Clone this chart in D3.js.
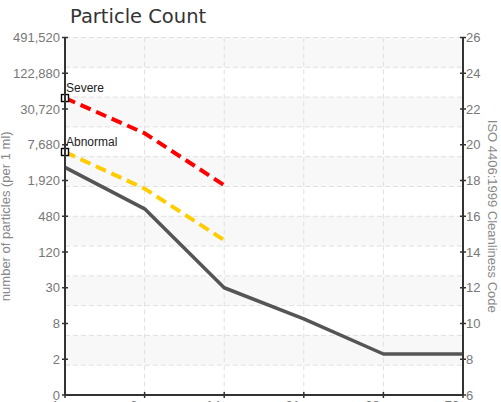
<!DOCTYPE html>
<html><head><meta charset="utf-8">
<script src="https://cdn.jsdelivr.net/npm/d3@7"></script>
<style>
html,body{margin:0;padding:0;background:#fff;overflow:hidden;}
svg{display:block;}
</style></head>
<body>
<svg id="c" width="501" height="402"></svg>
<script>
// ---- data ----
const sizes = ["4 µm", "6 µm", "14 µm", "21 µm", "38 µm", "70 µm"];
const actual = [3200, 640, 30, 9, 2.3, 2.3];
const severe = [47000, 12000, 1600];
const abnormal = [5800, 1400, 190];
const countTicks = [0.46875, 1.875, 7.5, 30, 120, 480, 1920, 7680, 30720, 122880, 491520];
const isoTicks = [6, 8, 10, 12, 14, 16, 18, 20, 22, 24, 26];
const gridDivisions = 12;

// ---- layout ----
const L = 65, R = 463, T = 37.5, B = 395;
const svg = d3.select("#c");
const font = "'Liberation Sans', Arial, sans-serif";

const x = d3.scalePoint().domain(sizes).range([L, R]);
const y = d3.scaleLog().base(2).domain([countTicks[0], countTicks[countTicks.length-1]]).range([B, T]);
const yIso = d3.scaleLinear().domain([isoTicks[0], isoTicks[isoTicks.length-1]]).range([B, T]);
const gridS = d3.scaleLinear().domain([0, gridDivisions]).range([T, B]);

// bands
const g = svg.append("g");
d3.range(0, gridDivisions, 2).forEach(k => {
  g.append("rect").attr("x", L).attr("width", R - L)
    .attr("y", gridS(k)).attr("height", gridS(k+1) - gridS(k))
    .attr("fill", "#f8f8f8");
});
// horizontal grid
d3.range(0, gridDivisions).forEach(k => {
  g.append("line").attr("x1", L).attr("x2", R)
    .attr("y1", gridS(k)).attr("y2", gridS(k))
    .attr("stroke", "#e0e0e0").attr("stroke-width", 1).attr("stroke-dasharray", "5,3");
});
// vertical grid
sizes.slice(1, -1).forEach(s => {
  g.append("line").attr("x1", x(s)).attr("x2", x(s))
    .attr("y1", T).attr("y2", B)
    .attr("stroke", "#e0e0e0").attr("stroke-width", 1).attr("stroke-dasharray", "5,3");
});

// lines
const line = d3.line().x(d => x(d.s)).y(d => y(d.v));
const toPts = arr => arr.map((v, i) => ({s: sizes[i], v}));

svg.append("path").datum(toPts(actual)).attr("d", line)
  .attr("fill", "none").attr("stroke", "#555").attr("stroke-width", 3.5)
  .attr("stroke-linejoin", "round");
svg.append("path").datum(toPts(abnormal)).attr("d", line)
  .attr("fill", "none").attr("stroke", "#ffcc00").attr("stroke-width", 4)
  .attr("stroke-dasharray", "11,6");
svg.append("path").datum(toPts(severe)).attr("d", line)
  .attr("fill", "none").attr("stroke", "#ff0000").attr("stroke-width", 4)
  .attr("stroke-dasharray", "11,6");

// markers + labels
[[severe, "Severe"], [abnormal, "Abnormal"]].forEach(([arr, name]) => {
  const px = x(sizes[0]), py = y(arr[0]);
  svg.append("rect").attr("x", px - 3.5).attr("y", py - 3.5).attr("width", 7).attr("height", 7)
    .attr("fill", "#fff").attr("stroke", "#000").attr("stroke-width", 1.4);
  svg.append("text").attr("x", px + 1).attr("y", py - 6)
    .attr("font-family", font).attr("font-size", 12).attr("fill", "#222")
    .text(name);
});

// axes
const axisColor = "#333";
const tickColor = "#777";
// left
const la = svg.append("g");
la.append("line").attr("x1", L).attr("x2", L).attr("y1", T).attr("y2", B)
  .attr("stroke", axisColor).attr("stroke-width", 2);
countTicks.forEach(v => {
  la.append("line").attr("x1", L - 3).attr("x2", L + 3).attr("y1", y(v)).attr("y2", y(v))
    .attr("stroke", axisColor).attr("stroke-width", 1.5);
  la.append("text").attr("x", L - 5).attr("y", y(v)).attr("dy", "0.36em")
    .attr("text-anchor", "end").attr("font-family", font).attr("font-size", 13)
    .attr("fill", tickColor).text(d3.format(",.0f")(v));
});
// right
const ra = svg.append("g");
ra.append("line").attr("x1", R).attr("x2", R).attr("y1", T).attr("y2", B)
  .attr("stroke", axisColor).attr("stroke-width", 2);
isoTicks.forEach(v => {
  ra.append("line").attr("x1", R - 3).attr("x2", R + 3).attr("y1", yIso(v)).attr("y2", yIso(v))
    .attr("stroke", axisColor).attr("stroke-width", 1.5);
  ra.append("text").attr("x", R + 3).attr("y", yIso(v)).attr("dy", "0.36em")
    .attr("text-anchor", "start").attr("font-family", font).attr("font-size", 13)
    .attr("fill", tickColor).text(v);
});
// bottom
const ba = svg.append("g");
ba.append("line").attr("x1", L).attr("x2", R).attr("y1", B).attr("y2", B)
  .attr("stroke", axisColor).attr("stroke-width", 2);
sizes.forEach(s => {
  ba.append("line").attr("x1", x(s)).attr("x2", x(s)).attr("y1", B - 3).attr("y2", B + 3)
    .attr("stroke", axisColor).attr("stroke-width", 1.5);
  ba.append("text").attr("x", x(s)).attr("y", B + 14.5)
    .attr("text-anchor", "middle").attr("font-family", font).attr("font-size", 13)
    .attr("fill", tickColor).text(s);
});

// axis titles
svg.append("text").attr("transform", `translate(10,${(T + B) / 2}) rotate(-90)`)
  .attr("text-anchor", "middle").attr("font-family", font).attr("font-size", 13)
  .attr("fill", "#888").text("number of particles (per 1 ml)");
svg.append("text").attr("transform", `translate(488,${(T + B) / 2}) rotate(90)`)
  .attr("text-anchor", "middle").attr("font-family", font).attr("font-size", 13)
  .attr("fill", "#888").text("ISO 4406:1999 Cleanliness Code");

// title
svg.append("text").attr("x", 70).attr("y", 22.5)
  .attr("font-family", "'DejaVu Sans', sans-serif").attr("font-size", 19.5)
  .attr("fill", "#333").text("Particle Count");
</script>
</body></html>
